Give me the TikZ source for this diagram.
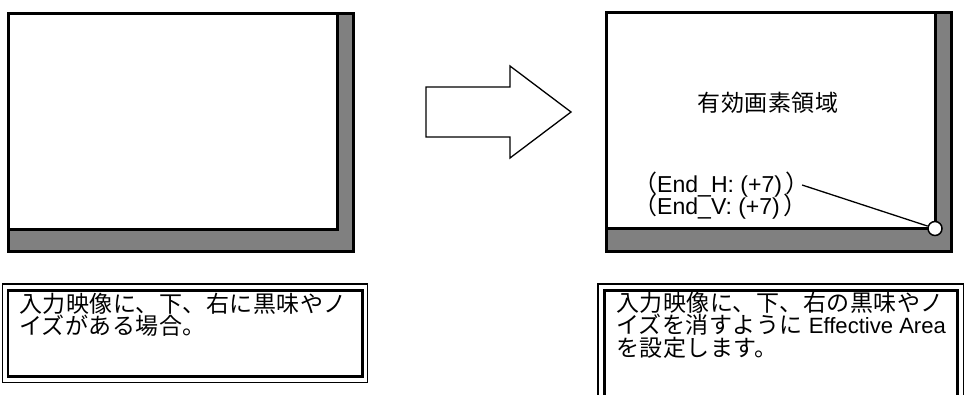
\documentclass[tikz,border=0pt]{standalone}
\usepackage{fontspec}
\setmainfont{Liberation Sans}[Scale=0.96]
\newfontfamily\cjk{Noto Sans CJK JP}[LetterSpace=2]
\newfontfamily\cjkn{Noto Sans CJK JP}
\newcommand\jp[1]{{\cjk #1}}
\newcommand\jpn[1]{{\cjkn #1}}
\definecolor{shadegray}{HTML}{808080}
\tikzset{
  screen/.style={draw=black, line width=3pt},
  dot/.style={circle, draw=black, fill=white, line width=1.5pt, minimum size=14pt, inner sep=0pt},
  txt/.style={inner sep=0pt, font=\fontsize{23}{20.5}\selectfont},
  lbl/.style={inner sep=0pt, font=\fontsize{24}{22}\selectfont},
  boxtxt/.style={txt, align=left, anchor=north west},
  innerbox/.style={draw=black, line width=2.5pt, inner sep=0pt, anchor=north west},
  outerline/.style={draw=black, line width=1.5pt},
  bigarrow/.style={draw=black, line width=1.3pt, fill=white, line join=miter},
  leader/.style={draw=black, line width=1.3pt}
}
\begin{document}
\begin{tikzpicture}[x=1pt,y=-1pt]
\useasboundingbox (0,0) rectangle (964,394);
\clip (0,0) rectangle (964,394);
% left panel
\draw[screen, fill=shadegray] (8.5,13.5) rectangle (353.5,251.5);
\draw[screen, fill=white] (8.5,13.5) rectangle (337.5,229.5);
% right panel
\draw[screen, fill=shadegray] (606.5,12.5) rectangle (951,251.5);
\draw[screen, fill=white] (606.5,12.5) rectangle (935,228.5);
\node[dot] (corner) at (935,228.5) {};
\node[txt] (area) at (768,103) {\jp{有効画素領域}};
\node[lbl, anchor=west] (endh) at (633,185) {\jpn{（}End\_H: (+7)\,\jpn{）}};
\node[lbl, anchor=west] (endv) at (633,207) {\jpn{（}End\_V: (+7)\,\jpn{）}};
\draw[leader] ([xshift=-8pt]endh.east) -- (corner);
% arrow
\draw[bigarrow] (426,87) -- (510,87) -- (510,66) -- (571,112) -- (510,158) -- (510,137) -- (426,137) -- cycle;
% left text box
\node[innerbox, minimum width=354.5pt, minimum height=86pt] (lbox) at (6.5,289) {};
\draw[outerline] ([shift={(-4,-5)}]lbox.north west) rectangle ([shift={(4,5)}]lbox.south east);
\node[boxtxt] (ltext) at (19,293) {\jp{入力映像に、下、右に黒味やノ}\\\jp{イズがある場合。}};
% right text box
\node[innerbox, minimum width=353pt, minimum height=130pt] (rbox) at (603,289) {};
\draw[outerline] ([shift={(-5,-5)}]rbox.north west) rectangle ([shift={(5,5)}]rbox.south east);
\node[boxtxt] (rtext) at (616,292) {\jp{入力映像に、下、右の黒味やノ}\\\jp{イズを消すように} Effective Area\\\jp{を設定します。}};
\end{tikzpicture}
\end{document}
